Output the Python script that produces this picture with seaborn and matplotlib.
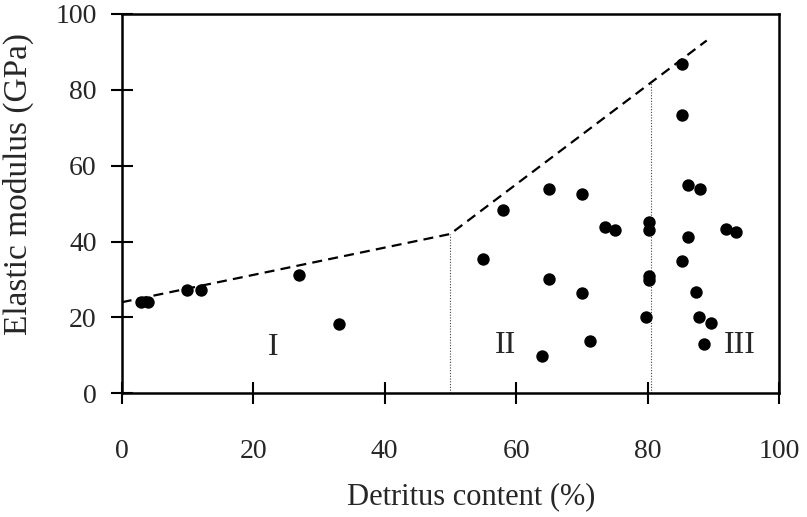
import pandas as pd
import seaborn as sns
import matplotlib.pyplot as plt

# measured points
detritus = [3, 4, 10, 12, 27, 33,
            55, 58, 64, 65, 65, 70, 70, 71.3, 73.5, 75, 79.7, 80.2, 80.2, 80.2, 80.2,
            85.2, 85.2, 85.2, 86.2, 86.2, 87.3, 87.8, 88, 88.6, 89.6, 91.9, 93.4]
modulus = [24, 24, 27.3, 27.3, 31.1, 18.2,
           35.4, 48.2, 9.7, 53.9, 30.1, 52.5, 26.4, 13.9, 43.9, 43.0, 20.2, 45.1, 43.1, 30.9, 29.9,
           86.9, 73.4, 34.9, 54.8, 41.1, 26.7, 20.2, 53.9, 13.0, 18.6, 43.4, 42.5]

# upper envelope (dashed)
env_x = [0, 50, 89]
env_y = [24, 42, 93]

# zone boundaries
bound_x = [50, 80.5]
bound_top = [42, 82]

zone_labels = ['I', 'II', 'III']
zone_x = [23, 58.4, 94.1]
zone_y = [12, 12.7, 12.7]

sns.set_style('white')
plt.rcParams['font.family'] = ['Liberation Serif', 'DejaVu Serif']
plt.rcParams['font.size'] = 20

fig = plt.figure(figsize=(8.07, 5.17), dpi=100)
ax = fig.add_axes([0.1508, 0.2393, 0.8145, 0.7337])

df = pd.DataFrame({'x': detritus, 'y': modulus})
sns.scatterplot(data=df, x='x', y='y', ax=ax, color='black', s=80,
                edgecolor='black', linewidth=0, zorder=3)

env = pd.DataFrame({'x': env_x, 'y': env_y})
sns.lineplot(data=env, x='x', y='y', ax=ax, sort=False, color='black',
             lw=1.6, dashes=False, zorder=2)
ax.lines[-1].set_dashes([4.5, 2.8])

ax.vlines(bound_x, [0, 0], bound_top, colors='#444444', linestyles=(0, (1, 1.5)),
          lw=0.8, zorder=1)

for lab, lx, ly in zip(zone_labels, zone_x, zone_y):
    ax.text(lx, ly, lab, ha='center', va='center', fontsize=23)

ax.set_xlim(0, 100)
ax.set_ylim(0, 100)
ax.set_xticks([0, 20, 40, 60, 80, 100])
ax.set_yticks([0, 20, 40, 60, 80, 100])
ax.set_xlabel('Detritus content (%)', fontsize=22)
ax.set_ylabel('Elastic modulus (GPa)', fontsize=24)
ax.xaxis.set_label_coords(0.532, -0.235)
ax.yaxis.set_label_coords(-0.133, 0.551)

for sp in ax.spines.values():
    sp.set_visible(True)
    sp.set_color('black')
    sp.set_linewidth(1.8)
ax.tick_params(axis='both', direction='inout', length=16, width=1.5, color='black',
               labelsize=20, bottom=True, left=True)
ax.tick_params(axis='x', pad=25)
ax.tick_params(axis='y', pad=10)

fig.savefig('out.png', dpi=100)
